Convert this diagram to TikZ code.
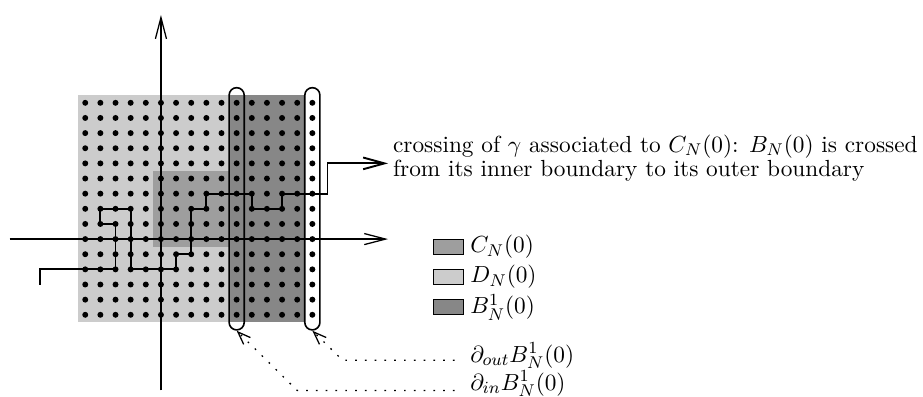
\documentclass[tikz,border=0pt]{standalone}
\usetikzlibrary{arrows.meta}
\definecolor{dreg}{gray}{0.80}
\definecolor{creg}{gray}{0.62}
\definecolor{breg}{gray}{0.53}
\tikzset{
  axisline/.style={line width=0.6pt, -{Straight Barb[length=10pt,width=5.2pt]}},
  gammapath/.style={line width=0.9pt, -{Straight Barb[length=10pt,width=5.5pt]}},
  bnd/.style={draw, line width=0.75pt, rounded corners=0.125cm, minimum width=0.25cm, minimum height=4cm, inner sep=0pt},
  legbox/.style={draw, line width=0.5pt, minimum width=0.5cm, minimum height=0.25cm, inner sep=0pt},
  ptr/.style={line width=0.6pt, dash pattern=on 0.8pt off 3.8pt, -{Straight Barb[length=6pt,width=4.5pt]}},
  lbl/.style={anchor=west, inner sep=0pt},
}
\begin{document}
\begin{tikzpicture}[x=0.25cm,y=0.25cm,font=\fontsize{10.95pt}{10.3pt}\selectfont]
\useasboundingbox (-10.63,-10.37) rectangle (50.33,15.79);
% regions
\fill[dreg] (-5.5,-5.5) rectangle (9.5,9.5);
\fill[creg] (-0.5,-0.5) rectangle (4.5,4.5);
\fill[breg] (4.5,-5.5) rectangle (9.5,9.5);
% axes
\coordinate (xl) at (-10,0);
\coordinate (xr) at (15,0);
\coordinate (yb) at (0,-10);
\coordinate (yt) at (0,14.8);
\draw[axisline] (xl) -- (xr);
\draw[axisline] (yb) -- (yt);
% path gamma
\coordinate (g0) at (-8,-3);
\coordinate (gend) at (15,5);
\draw[gammapath] (g0) -- (-8,-2) -- (-3,-2) -- (-3,1) -- (-4,1) -- (-4,2) -- (-2,2) -- (-2,-2) -- (1,-2) -- (1,-1) -- (2,-1) -- (2,2) -- (3,2) -- (3,3) -- (6,3) -- (6,2) -- (8,2) -- (8,3) -- (11,3) -- (11,5) -- (gend);
% lattice sites
\foreach \i in {-5,...,10} \foreach \j in {-5,...,9} \fill (\i,\j) circle (1.4pt);
% boundaries
\node[bnd] (inb) at (5,2) {};
\node[bnd] (outb) at (10,2) {};
% text
\node[lbl, align=left] (txt) at (15.3,5.35) {crossing of $\gamma$ associated to $C_N(0)$: $B_N(0)$ is crossed\\from its inner boundary to its outer boundary};
% legend
\node[legbox, fill=creg] (kc) at (19,-0.5) {};
\node[lbl] (lc) at (20.4,-0.5) {$C_N(0)$};
\node[legbox, fill=dreg] (kd) at (19,-2.5) {};
\node[lbl] (ld) at (20.4,-2.5) {$D_N(0)$};
\node[legbox, fill=breg] (kb) at (19,-4.5) {};
\node[lbl] (lb) at (20.4,-4.5) {$B^1_N(0)$};
% boundary labels
\node[lbl] (lout) at (20.4,-7.7) {$\partial_{out}B^1_N(0)$};
\node[lbl] (lin) at (20.4,-9.55) {$\partial_{in}B^1_N(0)$};
\coordinate (po) at (19.4,-8);
\coordinate (pi) at (19.4,-10);
\draw[ptr] (po) -- (12,-8) -- (outb.south);
\draw[ptr] (pi) -- (9,-10) -- (inb.south);
\end{tikzpicture}
\end{document}
